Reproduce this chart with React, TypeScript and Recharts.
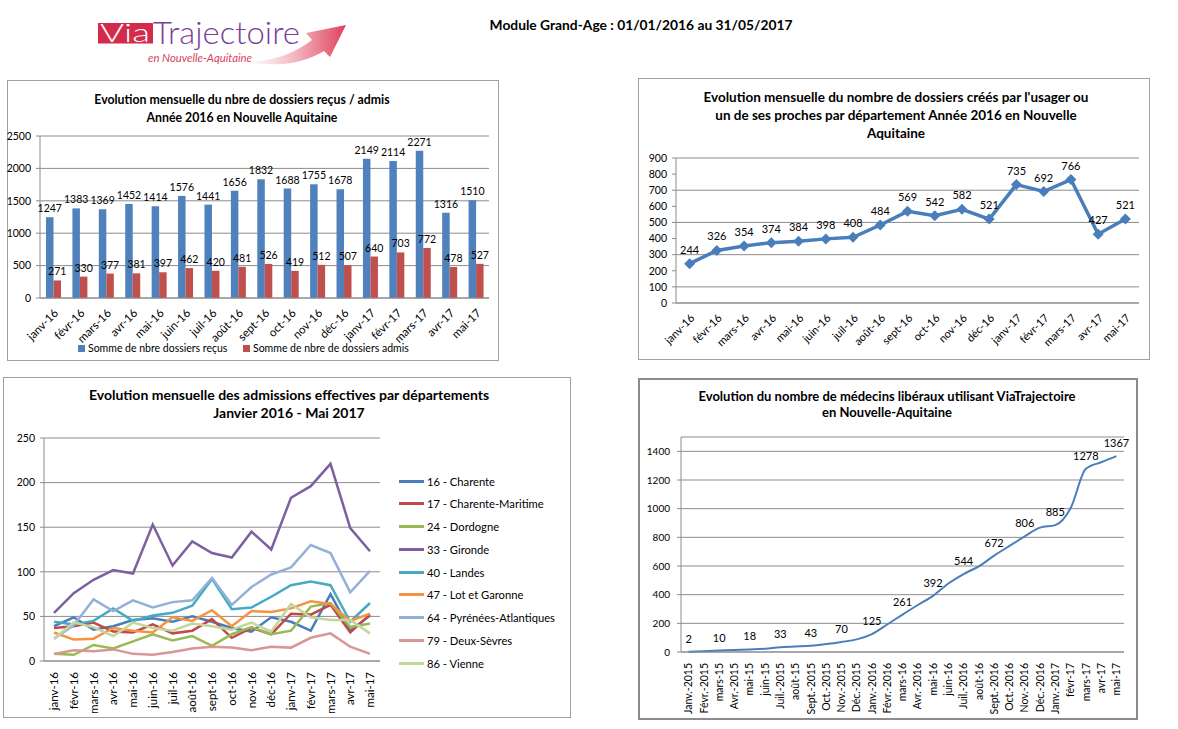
import React from 'react';
import { BarChart, Bar, LineChart, Line, XAxis, YAxis, CartesianGrid } from 'recharts';

const FONT = "Lato, 'Open Sans', sans-serif";

// categories
const MONTHS = ['janv-16', 'févr-16', 'mars-16', 'avr-16', 'mai-16', 'juin-16', 'juil-16', 'août-16', 'sept-16', 'oct-16', 'nov-16', 'déc-16', 'janv-17', 'févr-17', 'mars-17', 'avr-17', 'mai-17'];
const MED_MONTHS = ['Janv.-2015', 'Févr.-2015', 'mars-15', 'Avr.-2015', 'mai-15', 'juin-15', 'Juil.-2015', 'août-15', 'Sept.-2015', 'Oct.-2015', 'Nov.-2015', 'Déc.-2015', 'Janv.-2016', 'Févr.-2016', 'mars-16', 'Avr.-2016', 'mai-16', 'juin-16', 'Juil.-2016', 'août-16', 'Sept.-2016', 'Oct.-2016', 'Nov.-2016', 'Déc.-2016', 'Janv.-2017', 'févr-17', 'mars-17', 'avr-17', 'mai-17'];

// chart 1 : dossiers reçus / admis
const RECUS = [1247, 1383, 1369, 1452, 1414, 1576, 1441, 1656, 1832, 1688, 1755, 1678, 2149, 2114, 2271, 1316, 1510];
const ADMIS = [271, 330, 377, 381, 397, 462, 420, 481, 526, 419, 512, 507, 640, 703, 772, 478, 527];

// chart 2 : dossiers créés par l'usager
const CREES = [244, 326, 354, 374, 384, 398, 408, 484, 569, 542, 582, 521, 735, 692, 766, 427, 521];

// chart 3 : admissions par département
const DEPTS = ['16 - Charente', '17 - Charente-Maritime', '24 - Dordogne', '33 - Gironde', '40 - Landes', '47 - Lot et Garonne', '64 - Pyrénées-Atlantiques', '79 - Deux-Sèvres', '86 - Vienne'];
const DEPT_COLORS = ['#4A7EBB', '#BE4B48', '#98B954', '#7D60A0', '#46AAC5', '#F69240', '#93B1D8', '#D99694', '#C3D69B'];
const CHARENTE = [39, 49, 35, 39, 46, 48, 44, 50, 44, 37, 33, 49, 44, 34, 75, 34, 51];
const CHARENTE_MAR = [37, 39, 43, 33, 32, 41, 31, 34, 47, 26, 37, 30, 53, 52, 63, 32, 52];
const DORDOGNE = [8, 7, 18, 14, 22, 30, 23, 28, 17, 30, 38, 30, 34, 61, 65, 38, 42];
const GIRONDE = [54, 76, 91, 102, 98, 153, 107, 134, 121, 116, 145, 125, 183, 196, 221, 149, 123];
const LANDES = [44, 41, 45, 59, 45, 51, 54, 62, 92, 58, 60, 72, 85, 89, 85, 44, 65];
const LOT_GARONNE = [32, 24, 25, 37, 34, 32, 49, 45, 57, 39, 56, 55, 59, 67, 64, 45, 53];
const PYRENEES = [25, 40, 69, 56, 68, 60, 66, 68, 93, 63, 83, 97, 105, 130, 121, 77, 101];
const DEUX_SEVRES = [8, 12, 11, 13, 8, 7, 10, 14, 16, 15, 12, 16, 15, 26, 31, 16, 8];
const VIENNE = [25, 43, 38, 28, 43, 37, 34, 42, 39, 35, 43, 33, 64, 49, 46, 46, 31];
const DEPT_SERIES = [CHARENTE, CHARENTE_MAR, DORDOGNE, GIRONDE, LANDES, LOT_GARONNE, PYRENEES, DEUX_SEVRES, VIENNE];

// chart 4 : médecins libéraux
const MEDECINS = [2, 6, 10, 14, 18, 23, 33, 38, 43, 55, 70, 88, 125, 192, 261, 328, 392, 478, 544, 598, 672, 740, 806, 868, 885, 1003, 1278, 1324, 1367];

const dossiersData = MONTHS.map((m, i) => ({ mois: m, recus: RECUS[i], admis: ADMIS[i] }));
const creesData = MONTHS.map((m, i) => ({ mois: m, crees: CREES[i] }));
const deptData = MONTHS.map((m, i) => {
  const row: Record<string, any> = { mois: m };
  DEPTS.forEach((d, k) => { row[d] = DEPT_SERIES[k][i]; });
  return row;
});
const medData = MED_MONTHS.map((m, i) => ({ mois: m, medecins: MEDECINS[i] }));

const GRID = '#8c8c8c';
const AXIS = '#8c8c8c';

const AngledTick = (p: any) => (
  <text x={0} y={0} dy="0.35em" textAnchor="end" fontSize={p.size} fill="#000" fontFamily={FONT}
    transform={`translate(${p.x + 3},${p.y + 5}) rotate(-45)`}>{p.payload.value}</text>
);

const VerticalTick = (p: any) => (
  <text x={0} y={0} dy="0.35em" textAnchor="end" fontSize={p.size} fill="#000" fontFamily={FONT}
    transform={`translate(${p.x},${p.y + 3}) rotate(-90)`}>{p.payload.value}</text>
);

const topLabel = (dy: number, size: number, only?: (i: number, v: number) => boolean) => (p: any) => {
  const vb = p.viewBox || {};
  const x = p.x ?? vb.x;
  const y = p.y ?? vb.y;
  const w = p.width ?? vb.width ?? 0;
  const v = Number(p.value);
  const idx = p.index ?? -1;
  if (x == null || y == null) return null;
  if (only && !only(idx, v)) return null;
  return (
    <text key={`${idx}-${v}`} x={x + w / 2} y={y - dy} textAnchor="middle" fontSize={size} fill="#000" fontFamily={FONT}>{p.value}</text>
  );
};

const Diamond = (p: any) => {
  const { cx, cy, index } = p;
  if (cx == null || cy == null) return <g key={index} />;
  const r = 5.5;
  return <path key={index} d={`M${cx},${cy - r}L${cx + r},${cy}L${cx},${cy + r}L${cx - r},${cy}Z`} fill="#4A7EBB" />;
};

const Box = ({ left, top, width, height, border = '1px solid #a0a0a0' }: any) => (
  <div style={{ position: 'absolute', left, top, width, height, border, boxSizing: 'border-box' }} />
);

const Title = ({ cx, top, lines, size, lh }: any) => (
  <div style={{ position: 'absolute', left: cx - 300, top, width: 600, textAlign: 'center', fontWeight: 700, fontSize: size, lineHeight: `${lh}px`, fontFamily: FONT, color: '#000' }}>
    {lines.map((l: string) => <div key={l}>{l}</div>)}
  </div>
);

const Logo = () => (
  <svg width={280} height={70} viewBox="90 10 280 70" style={{ position: 'absolute', left: 90, top: 10 }}>
    <defs>
      <linearGradient id="arrowGrad" x1="0" y1="0" x2="1" y2="0">
        <stop offset="0" stopColor="#F8DDE2" stopOpacity={0.3} />
        <stop offset="0.6" stopColor="#EE9AA8" />
        <stop offset="1" stopColor="#E0425C" />
      </linearGradient>
    </defs>
    <path d="M 250 62 Q 286 60 312 40 L 306 33 L 346 25 L 330 57 L 324 51 Q 292 70 250 62 Z" fill="url(#arrowGrad)" />
    <rect x={98} y={23} width={55} height={20.5} fill="#D42A4C" />
    <text x={100} y={42} fill="#fff" fontSize={25} fontFamily={FONT} fontWeight={300} textLength={50} lengthAdjust="spacingAndGlyphs">Via</text>
    <text x={153} y={44} fill="#7A3E98" fontSize={31} fontFamily={FONT} fontWeight={300} textLength={147} lengthAdjust="spacingAndGlyphs">Trajectoire</text>
    <text x={148} y={62} fill="#DA4260" fontSize={10.5} fontFamily={FONT} fontStyle="italic" textLength={104} lengthAdjust="spacingAndGlyphs">en Nouvelle-Aquitaine</text>
  </svg>
);

const DossiersChart = () => (
  <div style={{ position: 'absolute', left: 0, top: 130 }}>
    <BarChart width={499} height={230} data={dossiersData} margin={{ top: 6, right: 10, left: 0, bottom: 0 }} barGap={0}>
      <CartesianGrid vertical={false} stroke={GRID} />
      <XAxis dataKey="mois" interval={0} height={62} tickLine={false} stroke={AXIS} tick={(p: any) => <AngledTick {...p} size={11.5} />} />
      <YAxis width={40} domain={[0, 2500]} ticks={[0, 500, 1000, 1500, 2000, 2500]} stroke={AXIS} tickSize={4} tickMargin={5}
        tick={{ fontSize: 10.5, fill: '#000', fontFamily: FONT }} />
      <Bar dataKey="recus" fill="#4F81BD" barSize={7.5} isAnimationActive={false} label={topLabel(5, 10.5)} />
      <Bar dataKey="admis" fill="#C0504D" barSize={7.5} isAnimationActive={false} label={topLabel(5, 10.5)} />
    </BarChart>
  </div>
);

const CreesChart = () => (
  <div style={{ position: 'absolute', left: 636, top: 150 }}>
    <LineChart width={513} height={208} data={creesData} margin={{ top: 8, right: 10, left: 0, bottom: 0 }}>
      <CartesianGrid vertical={false} stroke={GRID} />
      <XAxis dataKey="mois" interval={0} height={55} tickLine={false} stroke={AXIS} padding={{ left: 13.6, right: 13.6 }}
        tick={(p: any) => <AngledTick {...p} size={11} />} />
      <YAxis width={40} domain={[0, 900]} ticks={[0, 100, 200, 300, 400, 500, 600, 700, 800, 900]} stroke={AXIS} tickSize={4} tickMargin={5}
        tick={{ fontSize: 10.5, fill: '#000', fontFamily: FONT }} />
      <Line dataKey="crees" stroke="#4A7EBB" strokeWidth={3.5} dot={Diamond} activeDot={false} isAnimationActive={false} label={topLabel(10, 11)} />
    </LineChart>
  </div>
);

const DeptChart = () => (
  <div style={{ position: 'absolute', left: 4, top: 430 }}>
    <LineChart width={381} height={283} data={deptData} margin={{ top: 8, right: 5, left: 0, bottom: 0 }}>
      <CartesianGrid vertical={false} stroke={GRID} />
      <XAxis dataKey="mois" interval={0} height={52} tickLine={false} stroke={AXIS} padding={{ left: 10, right: 10 }}
        tick={(p: any) => <VerticalTick {...p} size={11.5} />} />
      <YAxis width={40} domain={[0, 250]} ticks={[0, 50, 100, 150, 200, 250]} stroke={AXIS} tickSize={4} tickMargin={5}
        tick={{ fontSize: 10.5, fill: '#000', fontFamily: FONT }} />
      {DEPTS.map((d, k) => (
        <Line key={d} dataKey={d} stroke={DEPT_COLORS[k]} strokeWidth={2.5} dot={false} activeDot={false} isAnimationActive={false} />
      ))}
    </LineChart>
  </div>
);

const MedecinsChart = () => (
  <div style={{ position: 'absolute', left: 641, top: 429 }}>
    <LineChart width={493} height={289} data={medData} margin={{ top: 8, right: 10, left: 0, bottom: 0 }}>
      <CartesianGrid vertical={false} stroke={GRID} />
      <XAxis dataKey="mois" interval={0} height={66} tickLine={false} stroke={AXIS} padding={{ left: 7.6, right: 7.6 }}
        tick={(p: any) => <VerticalTick {...p} size={10.5} />} />
      <YAxis width={40} domain={[0, 1500]} ticks={[0, 200, 400, 600, 800, 1000, 1200, 1400]} stroke={AXIS} tickSize={4} tickMargin={7}
        tick={{ fontSize: 10, fill: '#000', fontFamily: FONT }} />
      <Line type="monotone" dataKey="medecins" stroke="#4A7EBB" strokeWidth={2} dot={false} activeDot={false} isAnimationActive={false}
        label={topLabel(9, 11, (i, v) => (i >= 0 ? i : MEDECINS.indexOf(v)) % 2 === 0)} />
    </LineChart>
  </div>
);

export default function App() {
  return (
    <div style={{ position: 'absolute', left: 0, top: 0, width: 1178, height: 729, background: '#fff', overflow: 'hidden', fontFamily: FONT }}>
      <Logo />
      <div style={{ position: 'absolute', left: 391, top: 16, width: 500, textAlign: 'center', fontWeight: 700, fontSize: 13.8, lineHeight: '17px' }}>
        Module Grand-Age : 01/01/2016 au 31/05/2017
      </div>

      {/* top left */}
      <Box left={7} top={80} width={492} height={281} />
      <Title cx={242} top={91} lines={['Evolution mensuelle du nbre de dossiers reçus / admis', 'Année 2016 en Nouvelle Aquitaine']} size={12.3} lh={18} />
      <DossiersChart />
      <div style={{ position: 'absolute', left: 78, top: 341, display: 'flex', alignItems: 'center', fontSize: 10.5, lineHeight: '14px' }}>
        <span style={{ width: 7, height: 7, background: '#4F81BD', marginRight: 3 }} />
        <span style={{ width: 155 }}>Somme de nbre dossiers reçus</span>
        <span style={{ width: 7, height: 7, background: '#C0504D', marginRight: 3 }} />
        <span>Somme de nbre de dossiers admis</span>
      </div>

      {/* top right */}
      <Box left={638} top={78} width={512} height={282} />
      <Title cx={896} top={88} lines={["Evolution mensuelle du nombre de dossiers créés par l'usager ou", 'un de ses proches par département Année 2016 en Nouvelle', 'Aquitaine']} size={13.5} lh={18} />
      <CreesChart />

      {/* bottom left */}
      <Box left={3} top={377} width={568} height={341} />
      <Title cx={289} top={386} lines={['Evolution mensuelle des admissions effectives par départements', 'Janvier 2016 - Mai 2017']} size={14} lh={18} />
      <DeptChart />
      {DEPTS.map((d, k) => (
        <div key={d} style={{ position: 'absolute', left: 399, top: 481 + k * 22.75 - 8, height: 16, display: 'flex', alignItems: 'center', fontSize: 11.2 }}>
          <span style={{ width: 25, height: 3, background: DEPT_COLORS[k], marginRight: 3 }} />
          <span>{d}</span>
        </div>
      ))}

      {/* bottom right */}
      <Box left={638} top={378} width={500} height={342} border="2px solid #8c8c8c" />
      <Title cx={887} top={388} lines={['Evolution du nombre de médecins libéraux utilisant ViaTrajectoire', 'en Nouvelle-Aquitaine']} size={13} lh={16} />
      <MedecinsChart />
    </div>
  );
}
